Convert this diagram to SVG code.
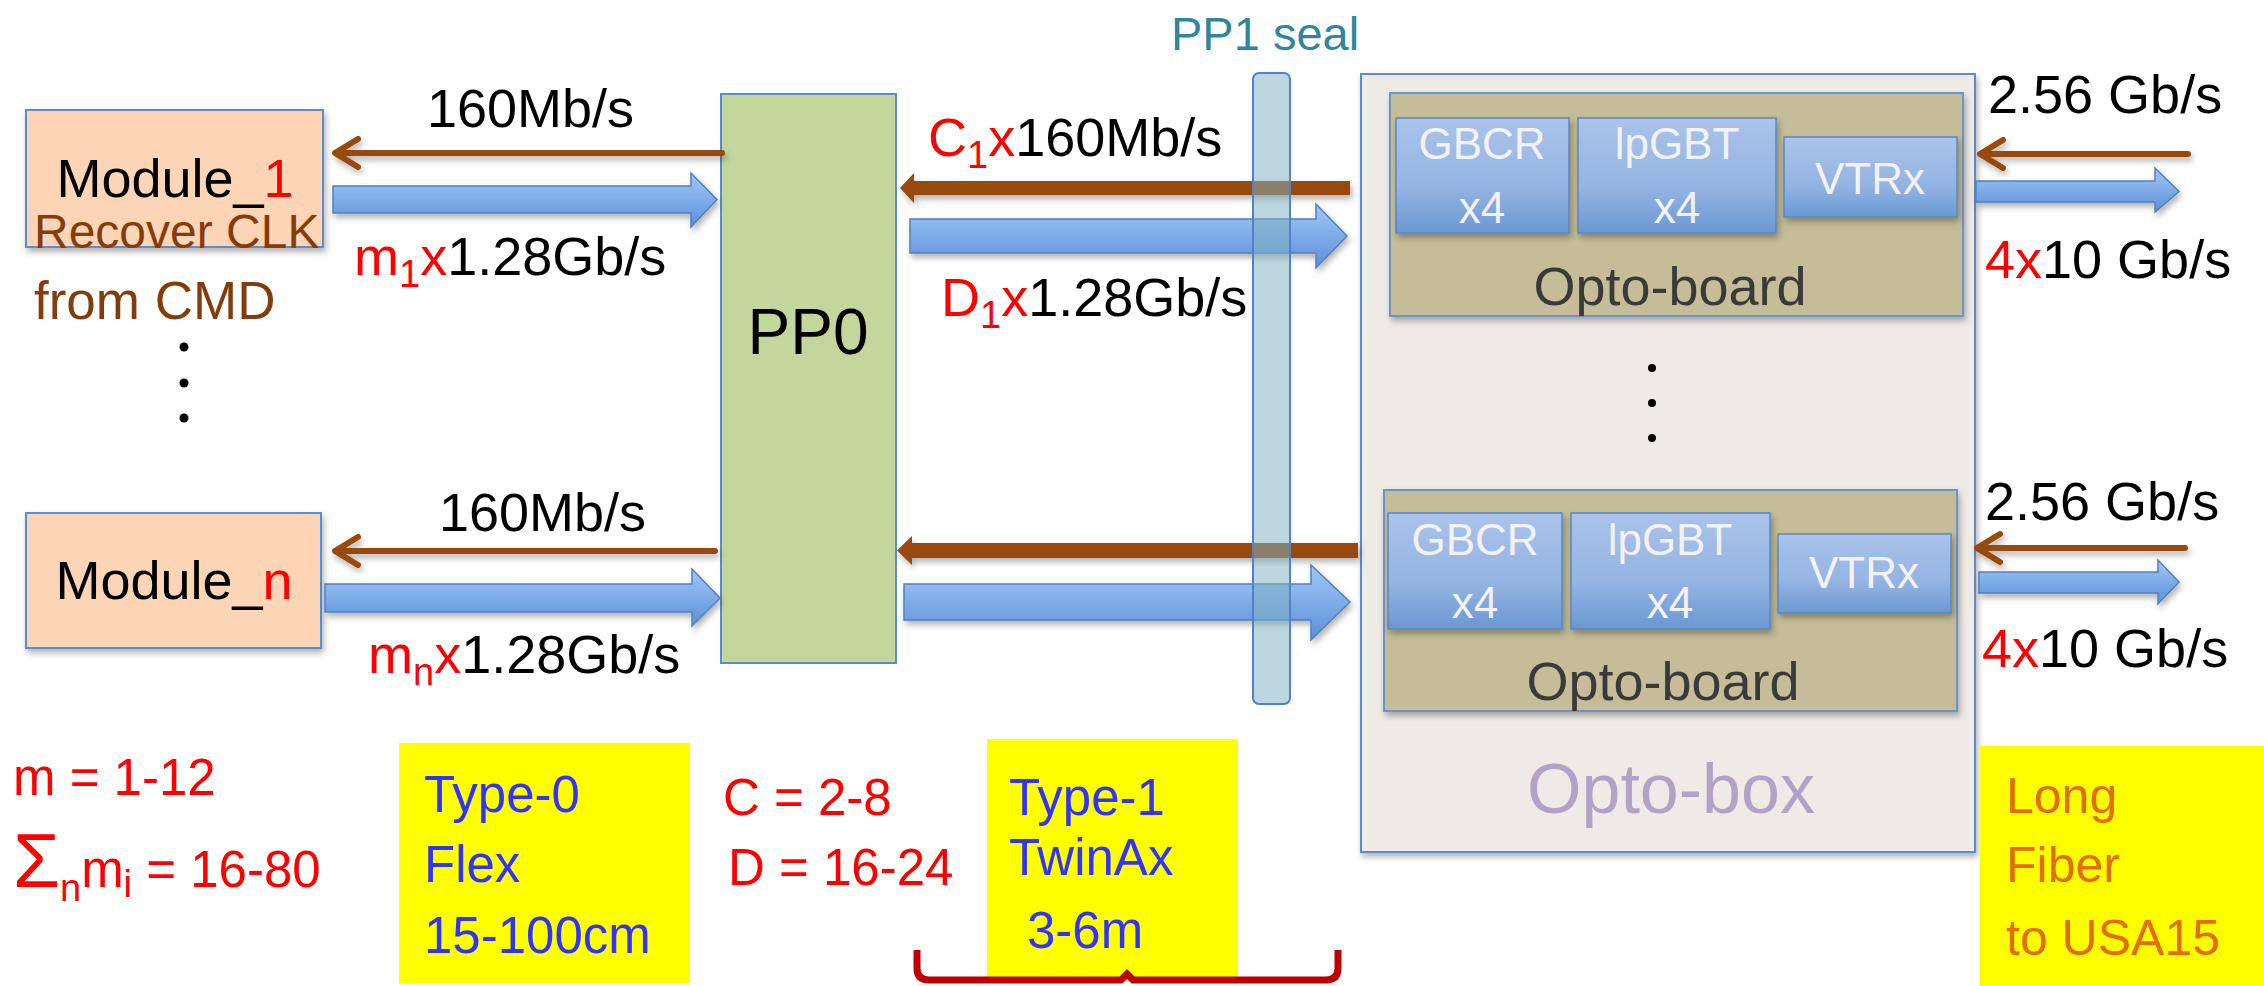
<svg xmlns="http://www.w3.org/2000/svg" width="2264" height="986" viewBox="0 0 2264 986">
<defs>
  <linearGradient id="blueArrow" x1="0" y1="0" x2="0" y2="1">
    <stop offset="0" stop-color="#a2c7f6"/>
    <stop offset="1" stop-color="#5b90d9"/>
  </linearGradient>
  <linearGradient id="chip" x1="0" y1="0" x2="0" y2="1">
    <stop offset="0" stop-color="#aac3ea"/>
    <stop offset="0.6" stop-color="#94b4e2"/>
    <stop offset="1" stop-color="#6a98d2"/>
  </linearGradient>
  <filter id="shadow" x="-10%" y="-10%" width="130%" height="140%">
    <feDropShadow dx="2" dy="4" stdDeviation="3" flood-color="#000" flood-opacity="0.3"/>
  </filter>
  <style>
    text { font-family: "Liberation Sans", Arial, sans-serif; }
    .lbl { font-size: 54px; fill: #000; }
    .red { fill: #ff0000; }
    .sub { font-size: 38px; }
    .brownTxt { fill: #843c0c; }
    .blueTxt { fill: #3333ff; font-size: 51px; }
    .redTxt { fill: #ff0000; font-size: 51px; }
    .orangeTxt { fill: #e46c0a; font-size: 50px; }
    .chipTxt { fill: #f2f2f2; font-size: 44px; text-anchor: middle; }
    .module { fill: #fbd5b5; stroke: #5b8bd0; stroke-width: 2; }
    .board { fill: #c4bd97; stroke: #6c93cc; stroke-width: 2; }
    .chipBox { fill: url(#chip); stroke: #5a86c5; stroke-width: 1.5; }
    .barrow { fill: url(#blueArrow); stroke: #4f81bd; stroke-width: 1.5; }
    .thin { fill: none; stroke: #984807; stroke-width: 6; stroke-linecap: round; stroke-linejoin: round; }
    .thick { fill: #984807; }
    .yellow { fill: #ffff00; }
  </style>
</defs>
<rect width="2264" height="986" fill="#ffffff"/>

<!-- Module 1 -->
<g id="module1">
  <rect class="module" x="26" y="110" width="297" height="137" filter="url(#shadow)"/>
  <text class="lbl" x="175" y="197" text-anchor="middle">Module_<tspan class="red">1</tspan></text>
  <text class="brownTxt" x="34" y="248" font-size="48">Recover CLK</text>
  <text class="brownTxt" x="34" y="319" font-size="53">from CMD</text>
</g>

<g id="dots-left" fill="#000">
  <circle cx="184" cy="347" r="4.5"/>
  <circle cx="184" cy="383" r="4.5"/>
  <circle cx="184" cy="418" r="4.5"/>
</g>

<!-- Module n -->
<g id="modulen">
  <rect class="module" x="26" y="513" width="295" height="135" filter="url(#shadow)"/>
  <text class="lbl" x="174" y="599" text-anchor="middle">Module_<tspan class="red">n</tspan></text>
</g>

<!-- PP0 -->
<g id="pp0">
  <rect x="721" y="94" width="175" height="569" fill="#c3d69b" stroke="#5b8bd0" stroke-width="2"/>
  <text x="808" y="354" font-size="64" text-anchor="middle" fill="#000">PP0</text>
</g>

<!-- Opto-box -->
<g id="optobox">
  <rect x="1361" y="74" width="614" height="778" fill="#eeebe6" stroke="#5b8bd0" stroke-width="2" filter="url(#shadow)"/>
  <text x="1527" y="813" font-size="70" fill="#b3a2c7">Opto-box</text>
  <g fill="#000">
    <circle cx="1652" cy="368" r="4"/>
    <circle cx="1652" cy="403" r="4"/>
    <circle cx="1652" cy="438" r="4"/>
  </g>
</g>

<g id="optoboard1">
  <rect class="board" x="1390" y="93" width="573" height="223" filter="url(#shadow)"/>
  <rect class="chipBox" x="1396" y="118" width="173" height="115" filter="url(#shadow)"/>
  <text class="chipTxt" x="1482" y="159">GBCR</text>
  <text class="chipTxt" x="1482" y="223">x4</text>
  <rect class="chipBox" x="1578" y="118" width="198" height="115" filter="url(#shadow)"/>
  <text class="chipTxt" x="1677" y="159">lpGBT</text>
  <text class="chipTxt" x="1677" y="223">x4</text>
  <rect class="chipBox" x="1784" y="137" width="173" height="80" filter="url(#shadow)"/>
  <text class="chipTxt" x="1870" y="194">VTRx</text>
  <text x="1670" y="305" font-size="54" fill="#3a3a3a" text-anchor="middle">Opto-board</text>
</g>

<g id="optoboard2">
  <rect class="board" x="1384" y="490" width="573" height="221" filter="url(#shadow)"/>
  <rect class="chipBox" x="1388" y="513" width="174" height="116" filter="url(#shadow)"/>
  <text class="chipTxt" x="1475" y="555">GBCR</text>
  <text class="chipTxt" x="1475" y="618">x4</text>
  <rect class="chipBox" x="1571" y="513" width="199" height="116" filter="url(#shadow)"/>
  <text class="chipTxt" x="1670" y="555">lpGBT</text>
  <text class="chipTxt" x="1670" y="618">x4</text>
  <rect class="chipBox" x="1778" y="534" width="173" height="79" filter="url(#shadow)"/>
  <text class="chipTxt" x="1864" y="588">VTRx</text>
  <text x="1663" y="700" font-size="54" fill="#3a3a3a" text-anchor="middle">Opto-board</text>
</g>

<!-- Connectors -->
<g id="connectors">
  <path class="thin" d="M722,153 L336,153 M358,139 L335,153 L358,167" filter="url(#shadow)"/>
  <path class="barrow" d="M333,186 L691,186 L691,173 L717,199.5 L691,227 L691,213 L333,213 Z" filter="url(#shadow)"/>
  <path class="thin" d="M715,551 L336,551 M358,537 L335,551 L358,565" filter="url(#shadow)"/>
  <path class="barrow" d="M325,584 L692,584 L692,569 L720,598 L692,626 L692,612 L325,612 Z" filter="url(#shadow)"/>
  <path class="thick" d="M1350,181 L914,181 L914,173 L900,188 L914,203 L914,195 L1350,195 Z" filter="url(#shadow)"/>
  <path class="barrow" d="M910,219 L1316,219 L1316,204 L1347,236 L1316,268 L1316,253 L910,253 Z" filter="url(#shadow)"/>
  <path class="thick" d="M1358,543 L912,543 L912,536 L897,550.5 L912,565 L912,558 L1358,558 Z" filter="url(#shadow)"/>
  <path class="barrow" d="M904,584 L1311,584 L1311,565 L1350,602 L1311,640 L1311,620 L904,620 Z" filter="url(#shadow)"/>
  <path class="thin" d="M2188,154 L1981,154 M2003,140 L1980,154 L2003,168" filter="url(#shadow)"/>
  <path class="barrow" d="M1976,181 L2155,181 L2155,168 L2179,191.5 L2155,212 L2155,202 L1976,202 Z" filter="url(#shadow)"/>
  <path class="thin" d="M2185,548 L1978,548 M2000,534 L1977,548 L2000,562" filter="url(#shadow)"/>
  <path class="barrow" d="M1979,572 L2158,572 L2158,560 L2179,582 L2158,604 L2158,593 L1979,593 Z" filter="url(#shadow)"/>
</g>

<!-- PP1 seal -->
<g id="pp1seal">
  <rect x="1253" y="73" width="37" height="631" rx="6" ry="6" fill="#7fb0c2" fill-opacity="0.52" stroke="#4f81d0" stroke-width="2"/>
  <text x="1171" y="50" font-size="47" fill="#31859c">PP1 seal</text>
</g>

<!-- Connector labels -->
<g id="labels">
  <text class="lbl" x="427" y="127">160Mb/s</text>
  <text class="lbl" x="354" y="275" font-size="53"><tspan class="red">m</tspan><tspan class="red sub" dy="12">1</tspan><tspan class="red" dy="-12">x</tspan>1.28Gb/s</text>
  <text class="lbl" x="439" y="531">160Mb/s</text>
  <text class="lbl" x="368" y="673" font-size="53"><tspan class="red">m</tspan><tspan class="red sub" dy="12">n</tspan><tspan class="red" dy="-12">x</tspan>1.28Gb/s</text>
  <text class="lbl" x="928" y="156"><tspan class="red">C</tspan><tspan class="red sub" dy="12">1</tspan><tspan class="red" dy="-12">x</tspan>160Mb/s</text>
  <text class="lbl" x="941" y="316" font-size="53"><tspan class="red">D</tspan><tspan class="red sub" dy="12">1</tspan><tspan class="red" dy="-12">x</tspan>1.28Gb/s</text>
  <text class="lbl" x="1988" y="113" font-size="52">2.56 Gb/s</text>
  <text class="lbl" x="1985" y="278" font-size="52"><tspan class="red">4x</tspan>10 Gb/s</text>
  <text class="lbl" x="1985" y="520" font-size="52">2.56 Gb/s</text>
  <text class="lbl" x="1982" y="667" font-size="52"><tspan class="red">4x</tspan>10 Gb/s</text>
</g>

<!-- Bottom notes -->
<g id="note-m">
  <text class="redTxt" x="13" y="795">m = 1-12</text>
  <text class="redTxt" x="13" y="887"><tspan font-size="76">Σ</tspan><tspan class="sub" dy="14">n</tspan><tspan dy="-14">m</tspan><tspan class="sub" dy="10">i</tspan><tspan dy="-10"> = 16-80</tspan></text>
</g>

<g id="type0">
  <rect class="yellow" x="399" y="743" width="291" height="240"/>
  <text class="blueTxt" x="424" y="812">Type-0</text>
  <text class="blueTxt" x="424" y="882">Flex</text>
  <text class="blueTxt" x="424" y="953" font-size="53">15-100cm</text>
</g>

<g id="note-cd">
  <text class="redTxt" x="723" y="815" font-size="50">C = 2-8</text>
  <text class="redTxt" x="728" y="885" font-size="50">D = 16-24</text>
</g>

<g id="type1">
  <rect class="yellow" x="987" y="739" width="251" height="239"/>
  <text class="blueTxt" x="1009" y="815">Type-1</text>
  <text class="blueTxt" x="1009" y="875" font-size="53">TwinAx</text>
  <text class="blueTxt" x="1027" y="948" font-size="53">3-6m</text>
</g>

<g id="bracket">
  <path d="M917,950 L917,968 Q917,980 929,980 L1121,980 L1127,974 L1133,980 L1326,980 Q1338,980 1338,968 L1338,950" fill="none" stroke="#c00000" stroke-width="7"/>
</g>

<g id="longfiber">
  <rect class="yellow" x="1980" y="746" width="284" height="240"/>
  <text class="orangeTxt" x="2006" y="813">Long</text>
  <text class="orangeTxt" x="2006" y="882" font-size="52">Fiber</text>
  <text class="orangeTxt" x="2006" y="955">to USA15</text>
</g>
</svg>
